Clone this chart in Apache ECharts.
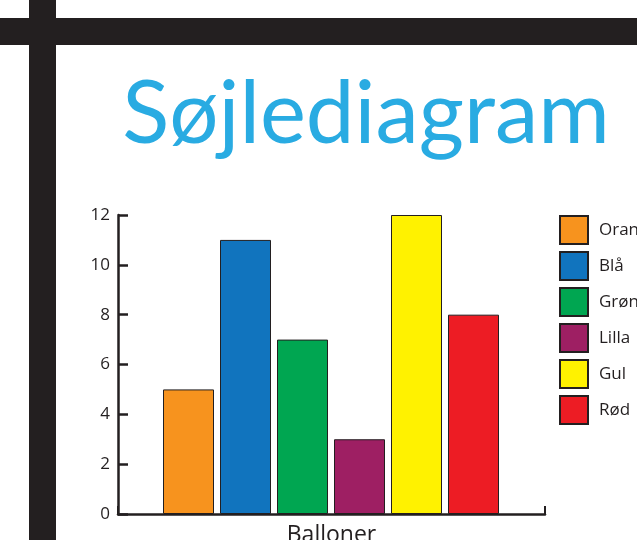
<!DOCTYPE html>
<html>
<head>
<meta charset="utf-8" />
<title>Søjlediagram</title>
<script src="https://cdn.jsdelivr.net/npm/echarts@6/dist/echarts.min.js"></script>
</head>
<body style="margin:0">
<div id="main" style="width:637px;height:540px;"></div>
<script type="text/javascript">
// data
var categories = ['Orange', 'Blå', 'Grøn', 'Lilla', 'Gul', 'Rød'];
var values = [5, 11, 7, 3, 12, 8];
var colors = ['#f7931e', '#1174be', '#00a651', '#9e1f63', '#fff200', '#ed1c24'];
var yMin = 0, yMax = 12, yStep = 2;

var ink = '#231f20';
var font = 'Open Sans';

var myChart = echarts.init(document.getElementById('main'));

// one series per balloon colour so the legend gets one entry each
var series = categories.map(function (name, i) {
  return {
    name: name,
    type: 'bar',
    xAxisIndex: 1,
    yAxisIndex: 1,
    stack: 'balloner',
    barWidth: 51,
    itemStyle: { color: colors[i], borderColor: ink, borderWidth: 1 },
    data: categories.map(function (c, j) { return j === i ? values[j] : '-'; })
  };
});

var option = {
  animation: false,
  textStyle: { fontFamily: font },
  title: {
    text: 'Søjlediagram',
    left: 361,
    top: 60,
    textAlign: 'center',
    textStyle: { color: '#29abe2', fontSize: 87, fontWeight: 'normal', fontFamily: 'Lato', lineHeight: 100 }
  },
  graphic: [
    { type: 'rect', shape: { x: 0, y: 18, width: 637, height: 27 }, style: { fill: ink } },
    { type: 'rect', shape: { x: 29, y: 0, width: 27, height: 540 }, style: { fill: ink } }
  ],
  legend: {
    orient: 'vertical',
    left: 554,
    top: 210,
    itemWidth: 28,
    itemHeight: 28,
    itemGap: 6,
    icon: 'rect',
    data: categories,
    textStyle: { fontSize: 17, color: ink, fontFamily: font, padding: [0, 0, 0, 6] }
  },
  grid: [
    { left: 118, top: 215, width: 427, height: 299, outerBoundsMode: 'none' },
    { left: 160, top: 215, width: 342, height: 299, outerBoundsMode: 'none' }
  ],
  xAxis: [
    {
      gridIndex: 0,
      type: 'value',
      min: 0,
      max: 1,
      interval: 1,
      name: 'Balloner',
      nameLocation: 'middle',
      nameGap: 10,
      nameTextStyle: { fontSize: 23, color: ink, fontFamily: font },
      axisLine: { lineStyle: { color: ink, width: 2.5 } },
      axisTick: { inside: true, length: 8, lineStyle: { color: ink, width: 2 } },
      axisLabel: { show: false },
      splitLine: { show: false }
    },
    {
      gridIndex: 1,
      type: 'category',
      data: categories,
      show: false
    }
  ],
  yAxis: [
    {
      gridIndex: 0,
      type: 'value',
      min: yMin,
      max: yMax,
      interval: yStep,
      axisLine: { show: true, lineStyle: { color: ink, width: 2.5 } },
      axisTick: { show: true, inside: true, length: 10, lineStyle: { color: ink, width: 2.5 } },
      axisLabel: { margin: 8, fontSize: 17, color: ink, fontFamily: font },
      splitLine: { show: false }
    },
    {
      gridIndex: 1,
      type: 'value',
      min: yMin,
      max: yMax,
      show: false
    }
  ],
  series: series
};

myChart.setOption(option);
</script>
</body>
</html>
